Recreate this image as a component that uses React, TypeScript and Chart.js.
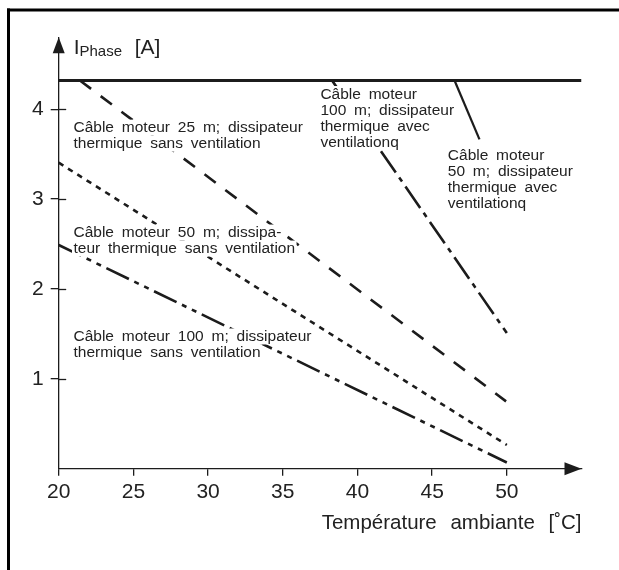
import React, { useEffect, useRef } from 'react';
import { Chart, registerables } from 'chart.js';

Chart.register(...registerables);

// ---- axis ranges & ticks ----
const xMin = 20;
const xMax = 55;
const yMin = 0;
const yMax = 4.8;
const xTicks = [20, 25, 30, 35, 40, 45, 50];
const yTicks = [1, 2, 3, 4];

// ---- series (temperature °C, current A) ----
const capX = [20, 55];
const capY = [4.32, 4.32];
const c25NoVentX = [21.42, 49.95];
const c25NoVentY = [4.32, 0.75];
const c50NoVentX = [20, 50];
const c50NoVentY = [3.405, 0.265];
const c100NoVentX = [20, 50];
const c100NoVentY = [2.49, 0.07];
const c100VentX = [38.3, 50];
const c100VentY = [4.32, 1.51];
const c50VentX = [46.5, 48.17];
const c50VentY = [4.32, 3.665];

// ---- annotation texts (anchor = first baseline, data coords) ----
const labelA = ['Câble moteur 25 m; dissipateur', 'thermique sans ventilation'];
const labelB = ['Câble moteur 50 m; dissipa-', 'teur thermique sans ventilation'];
const labelC = ['Câble moteur 100 m; dissipateur', 'thermique sans ventilation'];
const labelD = ['Câble moteur', '100 m; dissipateur', 'thermique avec', 'ventilationq'];
const labelE = ['Câble moteur', '50 m; dissipateur', 'thermique avec', 'ventilationq'];
const labelAnchorsX = [20.99, 20.99, 20.99, 37.52, 46.05];
const labelAnchorsY = [3.745, 2.578, 1.422, 4.119, 3.435];

const xTitle = 'Température ambiante [˚C]';
const yTitleMain = 'I';
const yTitleSub = 'Phase';
const yTitleUnit = '[A]';

const pts = (xs: number[], ys: number[]) => xs.map((x, i) => ({ x, y: ys[i] }));

const INK = '#1c1c1c';
const TEXT = '#222';
const FONT = '"Liberation Sans", Arial, Helvetica, sans-serif';

function drawSpacedText(ctx: CanvasRenderingContext2D, text: string, x: number, y: number, extra: number) {
  const words = text.split(' ');
  const sp = ctx.measureText(' ').width + extra;
  let cx = x;
  words.forEach((w, i) => {
    ctx.fillText(w, cx, y);
    cx += ctx.measureText(w).width + (i < words.length - 1 ? sp : 0);
  });
  return cx - x;
}

function spacedWidth(ctx: CanvasRenderingContext2D, text: string, extra: number) {
  const words = text.split(' ');
  const sp = ctx.measureText(' ').width + extra;
  return words.reduce((s, w) => s + ctx.measureText(w).width, 0) + sp * (words.length - 1);
}

const decorPlugin = {
  id: 'decor',
  beforeDraw(chart: any) {
    const ctx = chart.ctx as any;
    ctx.save();
    ctx.fillStyle = '#000';
    ctx.fillRect(7, 8.5, 700, 3);
    ctx.fillRect(7, 8.5, 3, 700);
    ctx.restore();
    // wider word gaps for the axis title (drawn with the scales)
    if ('wordSpacing' in ctx) ctx.wordSpacing = '8px';
  },
  beforeDatasetsDraw(chart: any) {
    const ctx = chart.ctx as any;
    if ('wordSpacing' in ctx) ctx.wordSpacing = '0px';
  },
  afterDatasetsDraw(chart: any) {
    const ctx = chart.ctx as CanvasRenderingContext2D;
    const xs = chart.scales.x;
    const ys = chart.scales.y;
    const ax = xs.getPixelForValue(xMin);
    const ay = ys.getPixelForValue(yMin);
    ctx.save();

    // inner part of y tick marks
    ctx.strokeStyle = INK;
    ctx.lineWidth = 1.3;
    yTicks.forEach((v) => {
      const py = Math.round(ys.getPixelForValue(v)) + 0.5;
      ctx.beginPath();
      ctx.moveTo(ax, py);
      ctx.lineTo(ax + 7.5, py);
      ctx.stroke();
    });

    // arrows
    ctx.fillStyle = INK;
    const tipY = ys.getPixelForValue(yMax);
    ctx.beginPath();
    ctx.moveTo(ax, tipY);
    ctx.lineTo(ax - 6, tipY + 16);
    ctx.lineTo(ax + 6, tipY + 16);
    ctx.closePath();
    ctx.fill();
    const tipX = xs.getPixelForValue(xMax);
    ctx.beginPath();
    ctx.moveTo(tipX, ay);
    ctx.lineTo(tipX - 17, ay - 6.5);
    ctx.lineTo(tipX - 17, ay + 6.5);
    ctx.closePath();
    ctx.fill();

    // y axis title with subscript
    ctx.fillStyle = TEXT;
    ctx.textBaseline = 'alphabetic';
    ctx.textAlign = 'left';
    ctx.font = `21px ${FONT}`;
    ctx.fillText(yTitleMain, ax + 15, 53.5);
    ctx.font = `15px ${FONT}`;
    ctx.fillText(yTitleSub, ax + 20.8, 56);
    ctx.font = `21px ${FONT}`;
    ctx.fillText(yTitleUnit, ax + 76, 53.5);

    // curve annotations with white backgrounds
    const labels = [labelA, labelB, labelC, labelD, labelE];
    ctx.font = `15.5px ${FONT}`;
    const extra = 3.5;
    const lh = 16;
    labels.forEach((lines, li) => {
      const lx = xs.getPixelForValue(labelAnchorsX[li]);
      const ly = ys.getPixelForValue(labelAnchorsY[li]);
      lines.forEach((t, k) => {
        const bw = spacedWidth(ctx, t, extra);
        const by = ly + k * lh;
        ctx.fillStyle = '#fff';
        ctx.fillRect(lx - 1.5, by - 12.5, bw + 3, lh);
        ctx.fillStyle = TEXT;
        drawSpacedText(ctx, t, lx, by, extra);
      });
    });
    ctx.restore();
  },
};

export default function App() {
  const ref = useRef<HTMLCanvasElement | null>(null);
  useEffect(() => {
    if (!ref.current) return;
    const common = { pointRadius: 0, borderColor: INK, fill: false, showLine: true, borderCapStyle: 'butt' as const, tension: 0 };
    const chart = new Chart(ref.current, {
      type: 'scatter',
      data: {
        datasets: [
          { ...common, data: pts(capX, capY), borderWidth: 3 },
          { ...common, data: pts(c25NoVentX, c25NoVentY), borderWidth: 2.6, borderDash: [14, 12] },
          { ...common, data: pts(c50NoVentX, c50NoVentY), borderWidth: 2.6, borderDash: [5.5, 5.5] },
          { ...common, data: pts(c100NoVentX, c100NoVentY), borderWidth: 2.6, borderDash: [25, 6, 5, 6, 5, 6] },
          { ...common, data: pts(c100VentX, c100VentY), borderWidth: 2.6, borderDash: [26, 6, 5, 6] },
          { ...common, data: pts(c50VentX, c50VentY), borderWidth: 2.2 },
        ],
      },
      options: {
        animation: false,
        responsive: false,
        devicePixelRatio: 1,
        layout: { padding: { top: 37.3, right: 37.5, left: 0, bottom: 0 } },
        plugins: { legend: { display: false }, tooltip: { enabled: false } },
        scales: {
          x: {
            type: 'linear',
            min: xMin,
            max: xMax,
            afterBuildTicks: (s: any) => { s.ticks = xTicks.map((v) => ({ value: v })); },
            afterFit: (s: any) => { s.height = 101.2; },
            ticks: { autoSkip: false, maxRotation: 0, padding: 3.5, color: TEXT, font: { family: FONT, size: 21 } },
            grid: { display: true, drawOnChartArea: false, drawTicks: true, tickLength: 7, color: INK, lineWidth: 1.3 },
            border: { display: true, color: INK, width: 1.3 },
            title: { display: true, text: xTitle, align: 'end', color: TEXT, font: { family: FONT, size: 20.5 }, padding: { top: 0, bottom: 34 } },
          },
          y: {
            type: 'linear',
            min: yMin,
            max: yMax,
            afterBuildTicks: (s: any) => { s.ticks = yTicks.map((v) => ({ value: v })); },
            afterFit: (s: any) => { s.width = 58.7; },
            ticks: { autoSkip: false, padding: 7, color: TEXT, font: { family: FONT, size: 21 } },
            grid: { display: true, drawOnChartArea: false, drawTicks: true, tickLength: 8, color: INK, lineWidth: 1.3 },
            border: { display: true, color: INK, width: 1.3 },
          },
        },
      },
      plugins: [decorPlugin],
    } as any);
    return () => chart.destroy();
  }, []);
  return (
    <div style={{ position: 'absolute', left: 0, top: 0, width: 619, height: 570, background: '#fff' }}>
      <canvas ref={ref} width={619} height={570} style={{ width: 619, height: 570, display: 'block' }} />
    </div>
  );
}
